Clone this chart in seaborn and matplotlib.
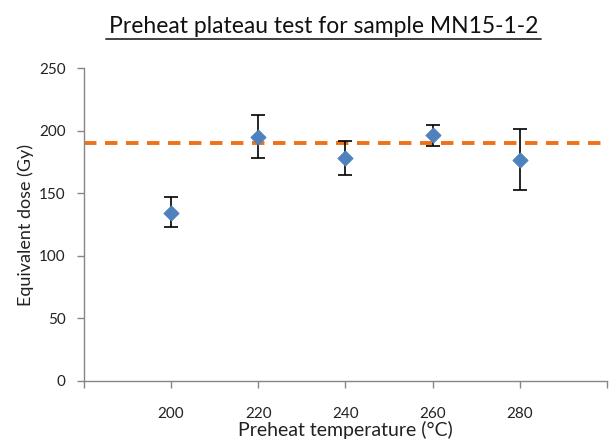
import matplotlib
matplotlib.use("Agg")
import matplotlib.pyplot as plt
import seaborn as sns
import pandas as pd

temps = [200, 220, 240, 260, 280]
dose = [134.5, 195, 178, 196.5, 177]
err_low = [123, 178, 164.5, 188, 153]
err_high = [147, 213, 192, 205, 201.5]
mean_dose = 190

x_ticks = [200, 220, 240, 260, 280]
y_ticks = [0, 50, 100, 150, 200, 250]

df = pd.DataFrame({"temp": temps, "dose": dose})

sns.set_style("white")
plt.rcParams['font.family'] = ['Lato', 'DejaVu Sans']

fig = plt.figure(figsize=(6.12, 4.43), dpi=100)
ax = fig.add_axes([0.137, 0.140, 0.855, 0.706])

ax.axhline(mean_dose, color="#EE7219", lw=2.8, ls=(0, (3.2, 2.2)), zorder=1)

yerr = [[d - lo for d, lo in zip(dose, err_low)], [hi - d for d, hi in zip(dose, err_high)]]
ax.errorbar(temps, dose, yerr=yerr, fmt="none", ecolor="black", elinewidth=1.2,
            capsize=5, capthick=1.2, zorder=2)
sns.scatterplot(data=df, x="temp", y="dose", marker="D", s=60, color="#4F81BD",
                edgecolor="#4F81BD", ax=ax, zorder=3)

ax.set_xlim(180, 300)
ax.set_ylim(0, 250)
ax.set_xticks([180] + x_ticks + [300])
ax.set_xticklabels([""] + [str(t) for t in x_ticks] + [""])
ax.set_yticks(y_ticks)
ax.tick_params(axis="both", direction="out", length=5, width=1, color="#868686",
               labelsize=11, labelcolor="#222222", bottom=True, left=True, pad=8)
ax.tick_params(axis="x", pad=14)

for s in ["top", "right"]:
    ax.spines[s].set_visible(False)
for s in ["left", "bottom"]:
    ax.spines[s].set_color("#868686")
    ax.spines[s].set_linewidth(1)

ax.set_xlabel("Preheat temperature (°C)", fontsize=14, color="#222222", labelpad=0)
ax.set_ylabel("Equivalent dose (Gy)", fontsize=13, color="#222222", labelpad=4)

t = fig.text(0.529, 0.94, "Preheat plateau test for sample MN15-1-2", ha="center",
             va="center", fontsize=16.5, color="#111111")
# underline
fig.add_artist(plt.Line2D([0.174, 0.884], [0.912, 0.912], color="#333333", lw=1.3,
                          transform=fig.transFigure))

fig.savefig("out.png", dpi=100)
